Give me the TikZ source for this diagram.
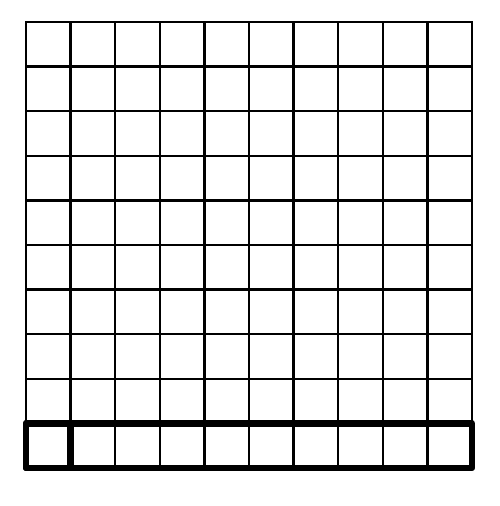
\documentclass[tikz,border=0pt]{standalone}
\usepackage{tikz}
\usetikzlibrary{arrows}

\begin{document}
\begin{tikzpicture}[x=44.6pt,y=44.6pt]
	\useasboundingbox (-26pt,-38pt) rectangle (473pt,468pt);
	\coordinate (SW) at (0,0);
	\coordinate (NE) at (10,10);
	\coordinate (R1) at (10,1);
	\coordinate (C1) at (1,1);
	%
	%  GRID
	%
	\foreach \i in {1,...,9} {
		\draw[line width=2.4pt] (\i,0) -- (\i,10);
		\draw[line width=2.4pt] (0,\i) -- (10,\i);
	}
	\draw[line width=2.8pt] (SW) rectangle (NE);
	%
	%  BOTTOM ROW
	%
	\draw[line width=6.5pt,line join=round] (SW) rectangle (R1);
	\draw[line width=6.5pt,line join=round] (SW) rectangle (C1);
\end{tikzpicture}
\end{document}
